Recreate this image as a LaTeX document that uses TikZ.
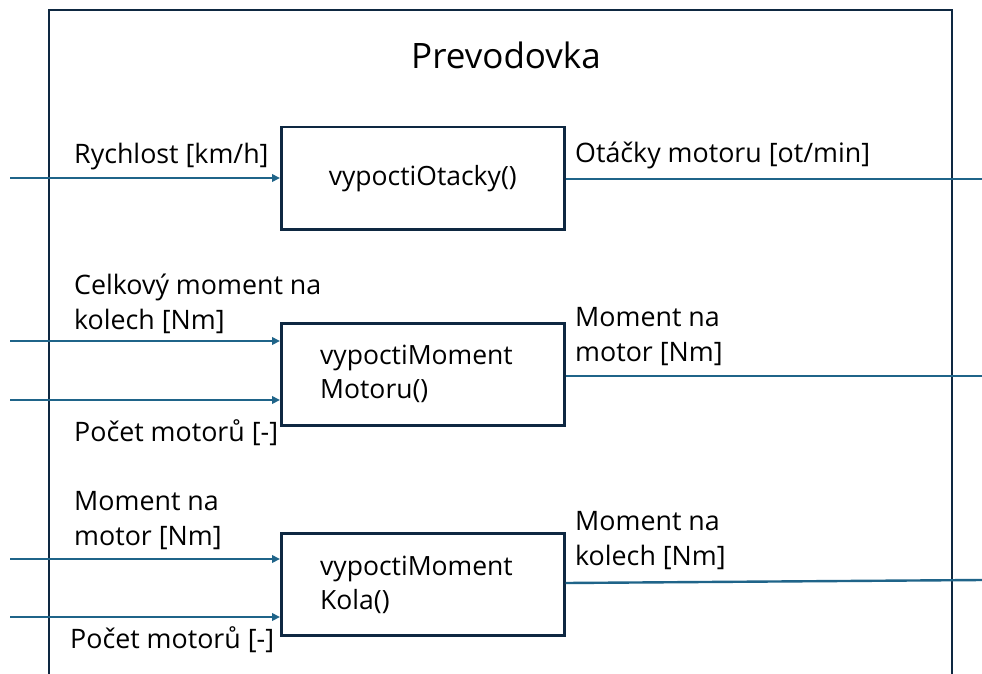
\documentclass[tikz,border=0pt]{standalone}
\usepackage{fontspec}
\setmainfont{Open Sans}
\usetikzlibrary{arrows.meta}
\definecolor{navy}{HTML}{0E2841}
\definecolor{flow}{HTML}{1F6489}
\tikzset{
  blk/.style={draw=navy, line width=2.5pt, minimum width=283pt, minimum height=102pt, inner sep=0pt, anchor=north west},
  btxt/.style={font=\fontsize{26.5}{34}\selectfont, align=left, anchor=west, inner sep=0pt},
  lbl/.style={font=\fontsize{26.8}{35}\selectfont, align=left, inner sep=0pt},
  sig/.style={draw=flow, line width=2.4pt, -{Triangle[length=8pt,width=7.5pt]}},
  sigout/.style={draw=flow, line width=2.4pt},
}
\begin{document}
\begin{tikzpicture}[x=1pt,y=-1pt]
\clip (0,0) rectangle (982,674);
\fill[white] (0,0) rectangle (982,674);
% outer module
\draw[navy, line width=2.5pt] (49,10) rectangle (952,720);
\node[font=\fontsize{35}{40}\selectfont, inner sep=0pt] (title) at (506,55) {Prevodovka};
% blocks
\node[blk] (b1) at (280,126) {};
\node[font=\fontsize{26.5}{34}\selectfont, inner sep=0pt] (t1) at (b1.center) {vypoctiOtacky()};
\node[blk] (b2) at (280,322) {};
\node[btxt] (t2) at (320,374) {vypoctiMoment\\Motoru()};
\node[blk] (b3) at (280,532) {};
\node[btxt] (t3) at (320,585) {vypoctiMoment\\Kola()};
% free ends
\coordinate (i1) at (10,178);
\coordinate (o1) at (982,179);
\coordinate (i2a) at (10,341);
\coordinate (i2b) at (10,400);
\coordinate (o2) at (982,376);
\coordinate (i3a) at (10,559);
\coordinate (i3b) at (10,617);
\coordinate (o3) at (982,580);
\coordinate (o3s) at (0,583);
% connectors
\draw[sig] (i1) -- (i1 -| b1.west);
\draw[sigout] (o1 -| b1.east) -- (o1);
\draw[sig] (i2a) -- (i2a -| b2.west);
\draw[sig] (i2b) -- (i2b -| b2.west);
\draw[sigout] (o2 -| b2.east) -- (o2);
\draw[sig] (i3a) -- (i3a -| b3.west);
\draw[sig] (i3b) -- (i3b -| b3.west);
\draw[sigout] (o3s -| b3.east) -- (o3);
% labels
\node[lbl, anchor=west] (l1) at (74,157) {Rychlost [km/h]};
\node[lbl, anchor=west] (r1) at (575,155) {Otáčky motoru [ot/min]};
\node[lbl, anchor=west] (l2a) at (74,304) {Celkový moment na\\kolech [Nm]};
\node[lbl, anchor=west] (l2b) at (74,433) {Počet motorů [-]};
\node[lbl, anchor=west] (r2) at (575,337) {Moment na\\motor [Nm]};
\node[lbl, anchor=west] (l3a) at (74,521) {Moment na\\motor [Nm]};
\node[lbl, anchor=west] (l3b) at (70,640) {Počet motorů [-]};
\node[lbl, anchor=west] (r3) at (575,541) {Moment na\\kolech [Nm]};
\end{tikzpicture}
\end{document}
